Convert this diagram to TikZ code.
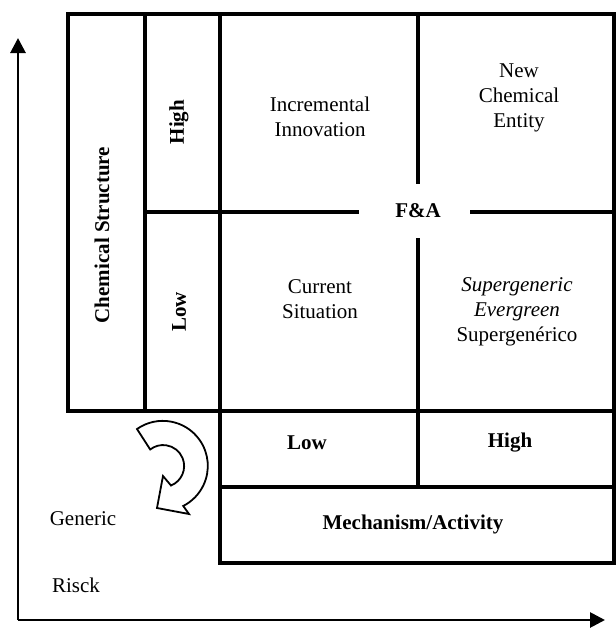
\documentclass[tikz,border=0pt]{standalone}
\usepackage{fontspec}
\setmainfont{Liberation Serif}
\usetikzlibrary{arrows.meta}
\begin{document}
\begin{tikzpicture}[x=0.5pt,y=-0.5pt]

    \tikzset{
      grid/.style={line width=1.7pt},
      axis/.style={line width=1.4pt,-{Triangle[length=7.5pt,width=7.5pt]}},
      label/.style={align=center,inner sep=0pt,font=\fontsize{10.5}{12.5}\selectfont},
      bold/.style={label,font=\fontsize{10.5}{12.5}\selectfont\bfseries},
      turn/.style={line width=0.9pt,fill=white},
    }
    \useasboundingbox (0,0) rectangle (616,628);

    % matrix of the two axes
    \draw[grid] (68,14) rectangle (614,411);
    \draw[grid] (145,14)--(145,411);
    \draw[grid] (220,14)--(220,563);
    \draw[grid] (418,14)--(418,184);
    \draw[grid] (418,238)--(418,487);
    \draw[grid] (145,212)--(359,212);
    \draw[grid] (470,212)--(614,212);
    \draw[grid] (220,411) rectangle (614,563);
    \draw[grid] (220,487)--(614,487);

    \node[bold,rotate=90] (chem) at (102,235) {Chemical Structure};
    \node[bold,rotate=90] (high) at (179,122) {High};
    \node[bold,rotate=90] (low) at (179,312) {Low};
    \node[label] (incr) at (320,117) {Incremental\\Innovation};
    \node[label] (nce) at (519,98) {New\\Chemical\\Entity};
    \node[bold] (fa) at (418,211) {F\&A};
    \node[label] (curr) at (320,299) {Current\\Situation};
    \node[label] (superg) at (517,312) {\textit{Supergeneric}\\\textit{Evergreen}\\Supergenérico};
    \node[bold] (mlow) at (307,443) {Low};
    \node[bold] (mhigh) at (510,443) {High};
    \node[bold] (mech) at (413,524) {Mechanism/Activity};
    \node[label] (generic) at (83,519) {Generic};
    \node[label] (risck) at (76,585) {Risck};

    % turning arrow
    \draw[turn] (137,429) arc[start angle=-125,end angle=63,radius=45]
      -- (189,514) -- (157,508) -- (163,476) -- (171,485.5)
      arc[start angle=68,end angle=-128,radius=21] -- cycle;

    \coordinate (origin) at (18,620);
    \coordinate (ytip) at (18,38);
    \coordinate (xtip) at (605,620);
    \draw[axis] (origin)--(ytip);
    \draw[axis] (origin)--(xtip);

\end{tikzpicture}
\end{document}
